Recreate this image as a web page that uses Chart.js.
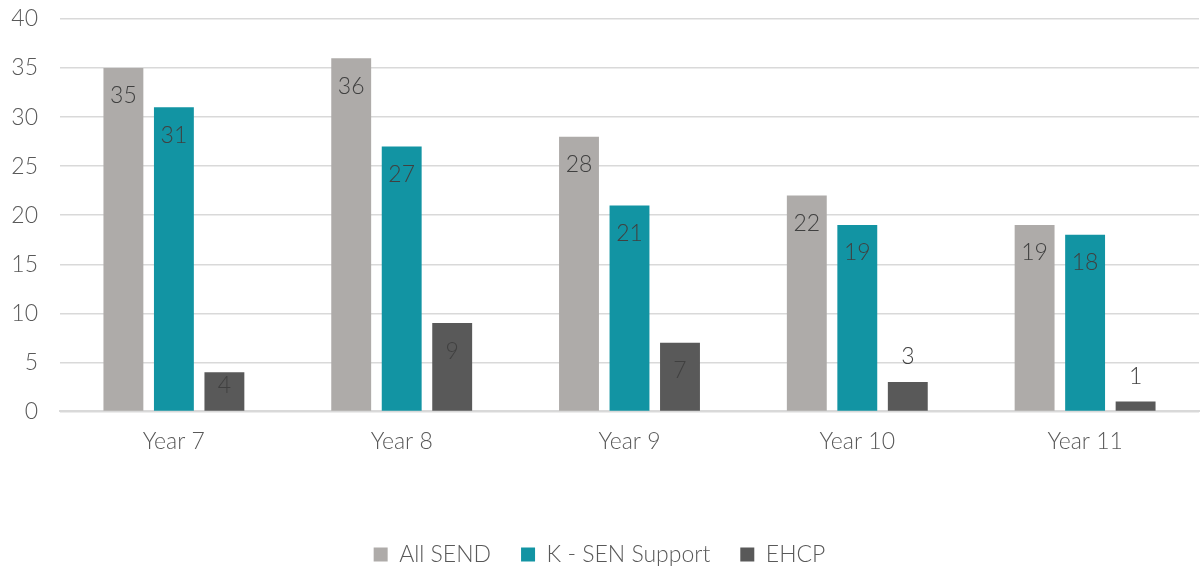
<!DOCTYPE html>
<html>
<head>
<meta charset="utf-8">
<script src="https://cdn.jsdelivr.net/npm/chart.js@4/dist/chart.umd.min.js"></script>
<style>
  html, body { margin: 0; padding: 0; background: #fff; }
  #wrap { width: 1200px; height: 572px; }
</style>
</head>
<body>
<div id="wrap"><canvas id="graph"></canvas></div>
<script>
var categories = ['Year 7', 'Year 8', 'Year 9', 'Year 10', 'Year 11'];
var allSend = [35, 36, 28, 22, 19];
var senSupport = [31, 27, 21, 19, 18];
var ehcp = [4, 9, 7, 3, 1];
var seriesNames = ['All SEND', 'K - SEN Support', 'EHCP'];

// labels at the inside end of bars, above when the bar is too short
var barLabels = {
  id: 'barLabels',
  afterDatasetsDraw: function(chart) {
    var ctx = chart.ctx;
    ctx.save();
    ctx.font = '300 23px Lato';
    ctx.fillStyle = '#404040';
    ctx.textAlign = 'center';
    ctx.textBaseline = 'middle';
    chart.data.datasets.forEach(function(ds, i) {
      chart.getDatasetMeta(i).data.forEach(function(bar, j) {
        var h = bar.base - bar.y;
        var y = h > 34 ? bar.y + Math.min(28, h / 2 - 6) : bar.y - 25;
        ctx.fillText(ds.data[j], bar.x, y);
      });
    });
    ctx.restore();
  }
};

window.onload = function() {
  var ctx = document.getElementById('graph').getContext('2d');
  new Chart(ctx, {
    type: 'bar',
    data: {
      labels: categories,
      datasets: [
        { label: seriesNames[0], data: allSend, backgroundColor: '#aeaba9' },
        { label: seriesNames[1], data: senSupport, backgroundColor: '#1294a3' },
        { label: seriesNames[2], data: ehcp, backgroundColor: '#595959' }
      ]
    },
    options: {
      responsive: true,
      maintainAspectRatio: false,
      animation: false,
      layout: { padding: { top: 19, right: 1, left: 0, bottom: -4 } },
      datasets: { bar: { categoryPercentage: 0.665, barPercentage: 0.79 } },
      scales: {
        x: {
          grid: { display: false, drawTicks: false },
          border: { color: '#d9d9d9', width: 2 },
          ticks: { color: '#595959', font: { family: 'Lato', size: 23, weight: 300 }, padding: 16 },
          afterFit: function(scale) { scale.height += 42; }
        },
        y: {
          min: 0, max: 40,
          grid: { color: '#d9d9d9', lineWidth: 1.5, drawTicks: true, tickLength: 22, tickColor: 'rgba(0,0,0,0)' },
          border: { display: false },
          ticks: { stepSize: 5, color: '#595959', font: { family: 'Lato', size: 23, weight: 300 }, padding: 0 },
          afterFit: function(scale) { scale.width = 60; }
        }
      },
      plugins: {
        tooltip: { enabled: false },
        legend: {
          position: 'bottom',
          labels: {
            color: '#595959',
            font: { family: 'Lato', size: 23, weight: 300 },
            boxWidth: 14, boxHeight: 14, padding: 30
          }
        }
      }
    },
    plugins: [barLabels]
  });
};
</script>
</body>
</html>
